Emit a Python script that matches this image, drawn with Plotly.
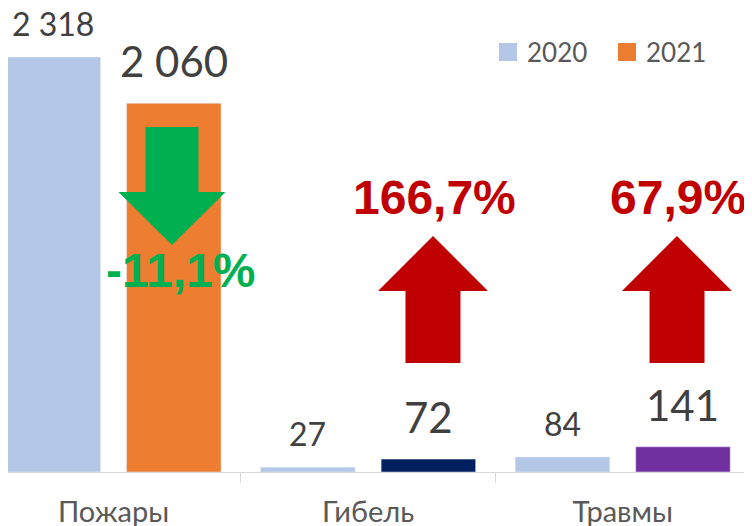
import plotly.graph_objects as go

categories = ["Пожары", "Гибель", "Травмы"]
values_2020 = [2318, 27, 84]
values_2021 = [2060, 72, 141]
labels_2020 = ["2 318", "27", "84"]
labels_2021 = ["2 060", "72", "141"]
changes = ["-11,1%", "166,7%", "67,9%"]

COLOR_2020 = "#B4C7E7"
COLORS_2021 = ["#ED7D31", "#002060", "#7030A0"]
GREEN = "#00B050"
RED = "#C00000"
FONT = "Lato"

W, H = 752, 526
# the page puts the figure 8px in from the top-left corner
PAGE_OFF = 8
BASE_Y = 472          # screen y of the axis line
PLOT_W = 750 - PAGE_OFF
PLOT_H = BASE_Y - PAGE_OFF
OFF = 0.2367          # bar centre offset from category centre


def px(x, y):
    # screen pixel -> paper coordinates
    return (x - PAGE_OFF) / PLOT_W, (BASE_Y - y) / PLOT_H


def arrow_path(cx, tip_y, neck_y, tail_y, head_w, shaft_w):
    pts = [
        (cx, tip_y),
        (cx + head_w / 2, neck_y),
        (cx + shaft_w / 2, neck_y),
        (cx + shaft_w / 2, tail_y),
        (cx - shaft_w / 2, tail_y),
        (cx - shaft_w / 2, neck_y),
        (cx - head_w / 2, neck_y),
    ]
    conv = [px(x, y) for x, y in pts]
    return "M " + " L ".join(f"{a:.4f},{b:.4f}" for a, b in conv) + " Z"


fig = go.Figure()
fig.add_trace(go.Bar(x=categories, y=values_2020, name="2020",
                     marker_color=COLOR_2020, showlegend=False))
fig.add_trace(go.Bar(x=categories, y=values_2021, name="2021",
                     marker_color=COLORS_2021, showlegend=False))

annotations = []
for i in range(3):
    annotations.append(dict(
        x=i - OFF, y=values_2020[i], xref="x", yref="y", text=labels_2020[i],
        showarrow=False, yanchor="bottom", yshift=12,
        font=dict(family=FONT, size=32, color="#404040")))
    annotations.append(dict(
        x=i + OFF, y=values_2021[i], xref="x", yref="y", text=labels_2021[i],
        showarrow=False, yanchor="bottom", yshift=15,
        font=dict(family=FONT, size=42, color="#404040")))

# percentage changes
pct_pos = [(180, 270, GREEN), (434, 198, RED), (678, 198, RED)]
for txt, (x, y, c) in zip(changes, pct_pos):
    ax, ay = px(x, y)
    annotations.append(dict(
        x=ax, y=ay, xref="paper", yref="paper", text=f"<b>{txt}</b>",
        showarrow=False, xanchor="center", yanchor="middle",
        font=dict(family="Liberation Sans, Arial", size=48, color=c)))

# legend drawn by hand
shapes = []
for lx, name, col in [(499, "2020", COLOR_2020), (618, "2021", COLORS_2021[0])]:
    x0, y0 = px(lx, 61)
    x1, y1 = px(lx + 18, 43)
    shapes.append(dict(type="rect", xref="paper", yref="paper",
                       x0=x0, y0=y0, x1=x1, y1=y1, fillcolor=col, line_width=0))
    tx, ty = px(lx + 26, 52)
    annotations.append(dict(
        x=tx, y=ty, xref="paper", yref="paper", text=name, showarrow=False,
        xanchor="left", yanchor="middle",
        font=dict(family=FONT, size=26, color="#595959")))

# arrows
shapes.append(dict(type="path", xref="paper", yref="paper", line_width=0,
                   fillcolor=GREEN,
                   path=arrow_path(172, 245, 192, 127, 107, 53)))
for cx in (433, 677):
    shapes.append(dict(type="path", xref="paper", yref="paper", line_width=0,
                       fillcolor=RED,
                       path=arrow_path(cx, 236, 291, 363, 110, 55)))

fig.update_layout(
    width=W, height=H,
    margin=dict(l=0, r=W - PLOT_W, t=0, b=H - PLOT_H),
    plot_bgcolor="white", paper_bgcolor="white",
    barmode="group", bargap=0.053, bargroupgap=0.216,
    annotations=annotations, shapes=shapes,
    font=dict(family=FONT),
)
fig.update_xaxes(
    range=[-0.5 + (PAGE_OFF + 13.75) / 254.5, 2.5],
    showline=True, linecolor="#D9D9D9", linewidth=1,
    ticks="outside", tickson="boundaries", ticklen=10, tickcolor="#D9D9D9",
    ticklabelstandoff=14,
    tickfont=dict(family=FONT, size=29, color="#595959"), showgrid=False,
    automargin=False,
)
fig.update_yaxes(range=[0, PLOT_H / 0.179], visible=False, showgrid=False,
                 automargin=False)

fig.write_html("out.html")
